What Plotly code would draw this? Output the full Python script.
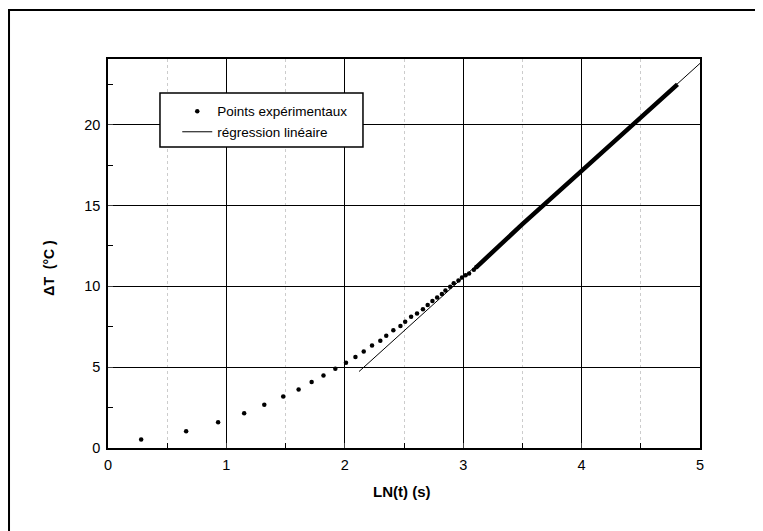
import plotly.graph_objects as go

ln_t = [0.28, 0.66, 0.93, 1.15, 1.32, 1.48, 1.61, 1.72, 1.82, 1.92, 2.01, 2.09,
        2.16, 2.23, 2.30, 2.35, 2.41, 2.47, 2.51, 2.56, 2.61, 2.66, 2.70, 2.74,
        2.78, 2.82, 2.85, 2.89, 2.92, 2.96, 2.99, 3.02, 3.05, 3.09, 3.11]
delta_t = [0.53, 1.04, 1.60, 2.15, 2.68, 3.19, 3.62, 4.09, 4.49, 4.90, 5.28, 5.63,
           5.97, 6.34, 6.64, 6.95, 7.28, 7.55, 7.81, 8.12, 8.33, 8.59, 8.85, 9.10,
           9.31, 9.53, 9.74, 9.98, 10.20, 10.37, 10.55, 10.69, 10.80, 11.03, 11.18]

# dense part of the measurements (points merge into a thick band)
band_x = [3.11, 3.50, 4.00, 4.44, 4.81]
band_y = [11.18, 13.85, 17.15, 20.05, 22.50]

# linear regression line
reg_x = [2.12, 5.0]
reg_y = [4.73, 23.8]

x_ticks = [0, 1, 2, 3, 4, 5]
y_ticks = [0, 5, 10, 15, 20]

font = 'Liberation Sans, Arial, sans-serif'

fig = go.Figure()

fig.add_trace(go.Scatter(x=band_x, y=band_y, mode='lines', showlegend=False,
                         line=dict(color='black', width=4.5), hoverinfo='skip'))
fig.add_trace(go.Scatter(x=ln_t, y=delta_t, mode='markers',
                         name='Points expérimentaux',
                         marker=dict(color='black', size=4.5, line=dict(width=0))))
fig.add_trace(go.Scatter(x=reg_x, y=reg_y, mode='lines',
                         name='régression linéaire',
                         line=dict(color='black', width=1)))

# the page body has an 8px margin, so the figure is a bit smaller than the window
fig.update_layout(
    width=755, height=523,
    margin=dict(l=100, r=63, t=51, b=83),
    paper_bgcolor='white', plot_bgcolor='white',
    font=dict(family=font, size=13, color='black'),
    legend=dict(x=0.117, y=0.905, xanchor='left', yanchor='top',
                bgcolor='rgba(0,0,0,0)', borderwidth=0,
                font=dict(size=13.5), tracegroupgap=0),
    shapes=[
        # legend box
        dict(type='rect', xref='paper', yref='paper', x0=0.0878, x1=0.4307,
             y0=0.7738, y1=0.9126, line=dict(color='black', width=1.5),
             fillcolor='white', layer='above'),
        # outer frame of the scanned figure
        dict(type='rect', xref='paper', yref='paper', x0=-0.1672, x1=1.2,
             y0=-0.2365, y1=1.126, line=dict(color='black', width=2)),
    ],
    annotations=[
        dict(text='<b>ΔT  (°C )</b>', xref='paper', yref='paper', x=-0.117, y=0.463,
             textangle=-90, showarrow=False, font=dict(size=14)),
        dict(text='<b>LN(t) (s)</b>', xref='paper', yref='paper', x=0.4966, y=-0.139,
             showarrow=False, font=dict(size=15)),
    ],
)

fig.update_xaxes(range=[0, 5], tickvals=x_ticks, ticks='inside', ticklen=5,
                 showline=True, linecolor='black', linewidth=1.5, mirror=True,
                 showgrid=True, gridcolor='black', gridwidth=1, zeroline=False,
                 tickfont=dict(size=14.5), ticklabelstandoff=3,
                 minor=dict(dtick=0.5, ticks='inside', ticklen=5, tickcolor='black',
                            showgrid=True, gridcolor='#cccccc', griddash='dot'))
fig.update_yaxes(range=[0, 24.07], tickvals=y_ticks, ticks='inside', ticklen=5,
                 showline=True, linecolor='black', linewidth=1.5, mirror=True,
                 showgrid=True, gridcolor='black', gridwidth=1, zeroline=False,
                 tickfont=dict(size=14.5), ticklabelstandoff=3,
                 minor=dict(dtick=2.5, ticks='inside', ticklen=5, tickcolor='black',
                            showgrid=False))

fig.write_html('out.html')
